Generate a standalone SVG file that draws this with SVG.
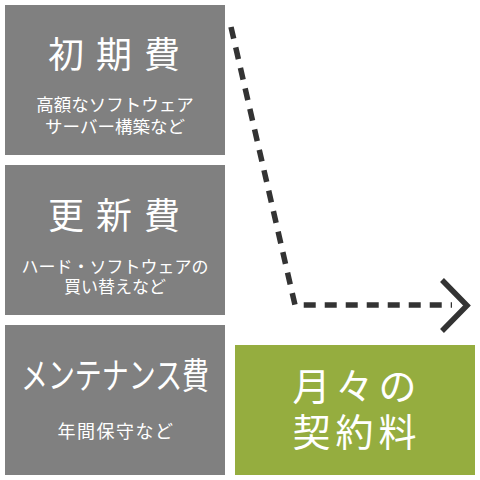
<svg xmlns="http://www.w3.org/2000/svg" width="480" height="480" viewBox="0 0 480 480">
<style>
.box{fill:#808080}
.green{fill:#95ad3f}
text{font-family:"Noto Sans CJK JP","Noto Sans",sans-serif;fill:#fff;text-anchor:middle}
.t{font-size:36px}
.s{font-size:17px}
.g{font-size:38px}
.conn{fill:none;stroke:#333;stroke-width:5.5}
</style>
<rect width="480" height="480" fill="#fff"/>
<g id="initial">
<rect class="box" x="5" y="5" width="220" height="150"/>
<text class="t" x="120" y="68" letter-spacing="12">初期費</text>
<text class="s" x="115" y="111" style="font-size:17.5px">高額なソフトウェア</text>
<text class="s" x="115" y="133" style="font-size:17.5px">サーバー構築など</text>
</g>
<g id="renewal">
<rect class="box" x="5" y="165" width="220" height="150"/>
<text class="t" x="120" y="229" letter-spacing="12">更新費</text>
<text class="s" x="115" y="273">ハード・ソフトウェアの</text>
<text class="s" x="115" y="293">買い替えなど</text>
</g>
<g id="maintenance">
<rect class="box" x="5" y="325" width="220" height="150"/>
<text class="t" x="21" y="389" style="text-anchor:start" textLength="188" lengthAdjust="spacingAndGlyphs">メンテナンス費</text>
<text class="s" x="116" y="438" style="font-size:18px" letter-spacing="1.5">年間保守など</text>
</g>
<g id="monthly">
<rect class="green" x="235" y="345" width="240" height="130"/>
<text class="g" x="357" y="400" letter-spacing="5">月々の</text>
<text class="g" x="357" y="446" letter-spacing="5">契約料</text>
</g>
<g id="connectors">
<path class="conn" d="M231,27 L295,305 L452,305" stroke-dasharray="12,9"/>
<path class="conn" d="M442,280 L467,305.5 L442,331"/>
</g>
</svg>
